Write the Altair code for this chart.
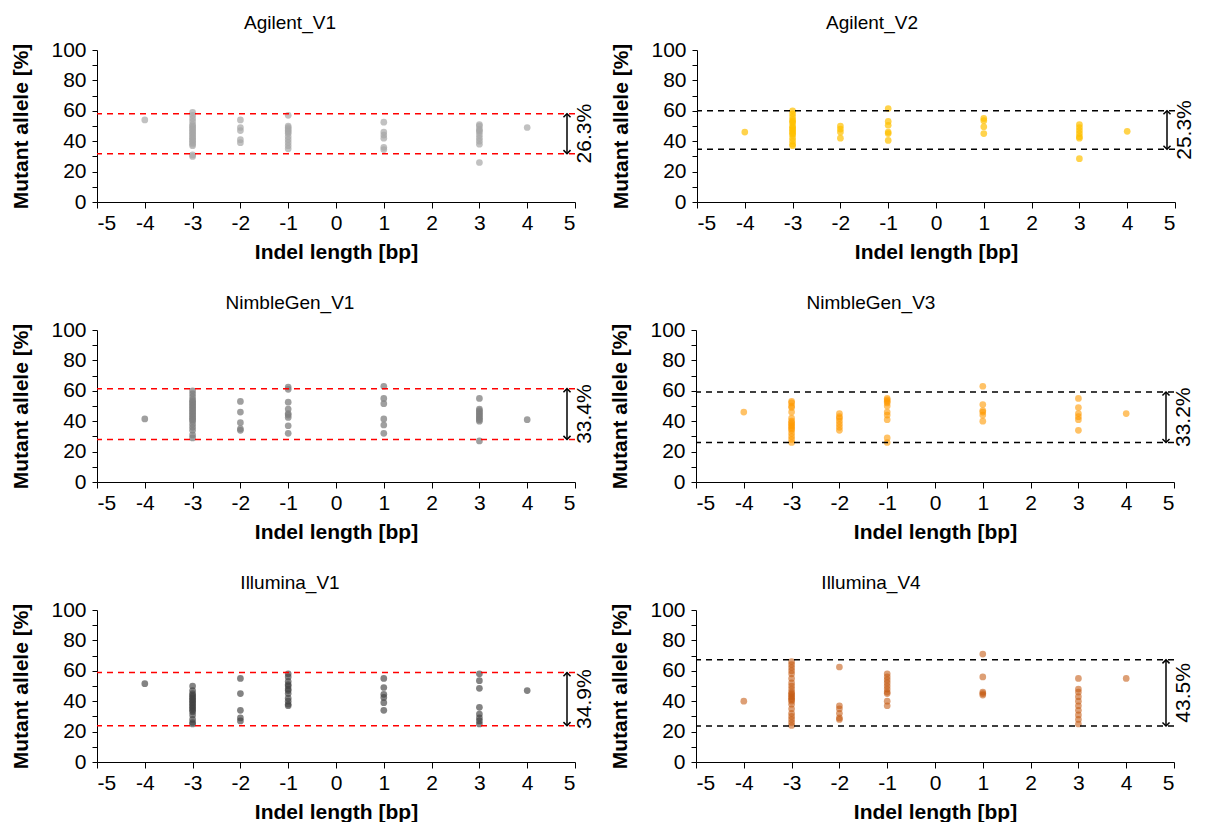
import altair as alt
import pandas as pd

# ---- data (indel length -> mutant allele %) ----
agilent_v1 = {
    -4: [54],
    -3: [59, 57, 55, 53, 51, 50, 49, 48, 47, 46, 45, 44, 43, 42, 41, 40, 39, 38, 37, 31, 30],
    -2: [54, 49, 47, 41, 39],
    -1: [57, 50, 49, 48, 47, 46, 45, 43, 41, 39, 37, 35],
    1: [52.5, 46, 44, 42, 36, 34.5],
    3: [51, 50, 48, 47, 46, 44, 42, 40, 38, 26],
    4: [49],
}
agilent_v2 = {
    -4: [46],
    -3: [60, 58, 56, 54, 53, 52, 50, 49, 48, 47, 46, 45, 44, 42, 40, 38, 37],
    -2: [50, 48, 46, 42],
    -1: [61.5, 53, 50.5, 46, 45, 40.5],
    1: [55, 53.5, 49.5, 45],
    3: [51, 49, 47, 45, 43, 42, 28.5],
    4: [46.5],
}
nimblegen_v1 = {
    -4: [41.5],
    -3: [60, 58, 56, 54, 53, 52, 51, 50, 49, 48, 47, 46, 45, 44, 43, 42, 41, 40, 38, 36, 34, 31, 29],
    -2: [53, 46, 39, 35, 34],
    -1: [62.5, 61, 52.5, 48, 45, 44, 42.5, 37, 32],
    1: [63, 55, 51.5, 41.5, 37.5, 32],
    3: [55, 48, 47, 46, 45, 44, 43, 42, 41, 40, 27],
    4: [41],
}
nimblegen_v3 = {
    -4: [46],
    -3: [53, 52, 50, 49, 46, 42, 40, 39, 38, 37, 36, 35, 34, 32, 30, 28, 26],
    -2: [45, 43, 42, 40, 38, 36, 34],
    -1: [55, 54, 53, 52, 50, 46, 44, 41, 29, 26],
    1: [63, 51, 47, 46, 44, 40],
    3: [55, 49, 45, 43, 41, 34],
    4: [45],
}
illumina_v1 = {
    -4: [51.5],
    -3: [50, 47, 45, 44, 43, 42, 41, 40, 39, 38, 37, 36, 35, 34, 33, 31, 28, 26, 25],
    -2: [55, 45, 34, 29, 27],
    -1: [58, 56, 53, 51, 50, 48, 47, 45, 42, 40, 38, 37],
    1: [55, 49, 44.5, 42.5, 39, 34],
    3: [58, 53.5, 48.5, 36, 31.5, 29, 27, 25],
    4: [47],
}
illumina_v4 = {
    -4: [40],
    -3: [66, 64, 62, 60, 58, 55, 52, 50, 48, 46, 45, 44, 43, 42, 41, 40, 38, 35, 32, 30, 28, 26, 24],
    -2: [62.5, 37, 35, 32, 29, 28],
    -1: [58, 56, 54, 52, 50, 48, 46, 45, 40, 37],
    1: [71, 56, 46, 45, 44],
    3: [55, 48, 46, 43, 40, 37, 34, 31, 28, 25],
    4: [55],
}

panel_names = ["Agilent_V1", "Agilent_V2", "NimbleGen_V1", "NimbleGen_V3", "Illumina_V1", "Illumina_V4"]
panel_points = [agilent_v1, agilent_v2, nimblegen_v1, nimblegen_v3, illumina_v1, illumina_v4]
upper_lines = [58.1, 60.0, 61.4, 59.2, 58.8, 67.2]
lower_lines = [31.8, 34.7, 28.0, 26.0, 23.9, 23.7]
range_labels = ["26.3%", "25.3%", "33.4%", "33.2%", "34.9%", "43.5%"]
point_colors = ["#A6A6A6", "#FFC000", "#7F7F7F", "#FF9900", "#404040", "#C55A11"]
point_opacity = [0.7, 0.7, 0.75, 0.6, 0.65, 0.58]
line_colors = ["#FF0000", "#000000", "#FF0000", "#000000", "#FF0000", "#000000"]

x_ticks = [-5, -4, -3, -2, -1, 0, 1, 2, 3, 4, 5]
y_ticks = [0, 10, 20, 30, 40, 50, 60, 70, 80, 90, 100]

W, H = 478, 152
FONT = "Liberation Sans"
XSCALE = alt.Scale(domain=[-5, 5], nice=False, zero=False)
YSCALE = alt.Scale(domain=[0, 100], nice=False)
XAXIS = alt.Axis(values=x_ticks, title="Indel length [bp]", grid=False,
                 tickSize=6, labelPadding=4, titlePadding=8,
                 labelOverlap=False, labelExpr="'' + datum.value")
YAXIS = alt.Axis(values=y_ticks, title="Mutant allele [%]", grid=False,
                 tickSize=5, labelPadding=6, titlePadding=19,
                 labelOverlap=False,
                 labelExpr="datum.value % 20 == 0 ? '' + datum.value : ''")


def make_panel(i, dx):
    rows = []
    for k, vals in panel_points[i].items():
        for v in vals:
            rows.append({"x": k, "y": v})
    df = pd.DataFrame(rows)

    pts = alt.Chart(df).mark_circle(size=45, color=point_colors[i],
                                    opacity=point_opacity[i]).encode(
        x=alt.X("x:Q", scale=XSCALE, axis=XAXIS),
        y=alt.Y("y:Q", scale=YSCALE, axis=YAXIS),
    )

    ldf = pd.DataFrame({"y": [upper_lines[i], lower_lines[i]]})
    lines = alt.Chart(ldf).mark_rule(color=line_colors[i], strokeDash=[6, 5],
                                     strokeWidth=1.5).encode(
        y=alt.Y("y:Q", scale=YSCALE, axis=YAXIS)
    )

    adf = pd.DataFrame({"lo": [lower_lines[i]], "hi": [upper_lines[i]],
                        "mid": [(lower_lines[i] + upper_lines[i]) / 2],
                        "label": [range_labels[i]]})
    arrow = alt.Chart(adf).mark_rule(color="black", strokeWidth=1.5).encode(
        x=alt.value(W - 8),
        y=alt.Y("lo:Q", scale=YSCALE, axis=YAXIS),
        y2="hi:Q",
    )
    head_up = alt.Chart(adf).mark_point(
        shape="M-1,1L0,0L1,1", size=50, filled=False, color="black",
        strokeWidth=1.5, opacity=1).encode(
        x=alt.value(W - 8), y=alt.Y("hi:Q", scale=YSCALE, axis=YAXIS))
    head_dn = alt.Chart(adf).mark_point(
        shape="M-1,-1L0,0L1,-1", size=50, filled=False, color="black",
        strokeWidth=1.5, opacity=1).encode(
        x=alt.value(W - 8), y=alt.Y("lo:Q", scale=YSCALE, axis=YAXIS))
    txt = alt.Chart(adf).mark_text(angle=270, fontSize=21, font=FONT,
                                   align="center", baseline="middle",
                                   color="black").encode(
        x=alt.value(W + 10),
        y=alt.Y("mid:Q", scale=YSCALE, axis=YAXIS),
        text="label:N",
    )

    return alt.layer(pts, lines, arrow, head_up, head_dn, txt).properties(
        width=W, height=H,
        title=alt.TitleParams(panel_names[i], fontSize=19, fontWeight="normal",
                              font=FONT, color="black", frame="group",
                              anchor="middle", dx=dx, offset=6),
    )


panels = [make_panel(i, -46 if i % 2 == 0 else -64) for i in range(6)]
rows = [alt.hconcat(panels[2 * r], panels[2 * r + 1], spacing=14) for r in range(3)]
chart = alt.vconcat(*rows, spacing=32).properties(
    padding={"left": 2, "top": 6, "right": 0, "bottom": 0}, background="white"
).configure_view(stroke=None).configure_axis(
    labelFont=FONT, titleFont=FONT, labelFontSize=21, titleFontSize=21,
    titleFontWeight="bold", labelColor="black", titleColor="black",
    domainColor="black", tickColor="black", domainWidth=1, tickWidth=1,
)

chart.save("out.html", embed_options={"renderer": "svg", "actions": False})
